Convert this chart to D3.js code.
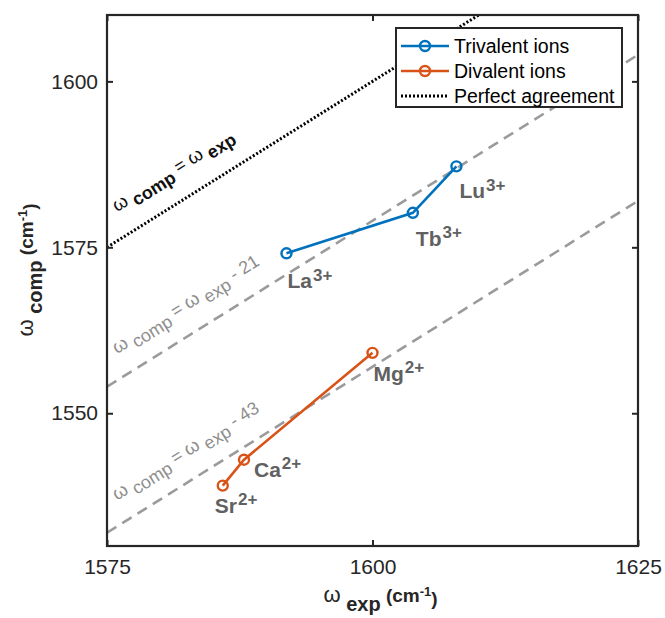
<!DOCTYPE html>
<html>
<head>
<meta charset="utf-8">
<script src="https://cdn.jsdelivr.net/npm/d3@7"></script>
<style>
  html, body { margin: 0; padding: 0; background: #fff; }
  svg { display: block; font-family: "Liberation Sans", Arial, Helvetica, sans-serif; }
</style>
</head>
<body>
<svg id="chart" width="665" height="618"></svg>
<script>
// ---------------- DATA ----------------
const xDomain = [1575, 1625];
const yDomain = [1530, 1610];
const xTicks = [1575, 1600, 1625];
const yTicks = [1550, 1575, 1600];

const trivalentIons = ["La", "Tb", "Lu"];
const trivalentCharge = "3+";
const trivalentExp = [1591.9, 1603.8, 1607.9];
const trivalentComp = [1574.1, 1580.2, 1587.2];

const divalentIons = ["Sr", "Ca", "Mg"];
const divalentCharge = "2+";
const divalentExp = [1585.9, 1587.9, 1600.0];
const divalentComp = [1539.1, 1543.0, 1559.1];

const lineOffsets = [0, -21, -43];           // ω_comp = ω_exp + offset
const legendLabels = ["Trivalent ions", "Divalent ions", "Perfect agreement"];

// ---------------- LAYOUT / STYLE ----------------
const M = { left: 107, right: 638, top: 15, bottom: 546 };
const blue = "#0072BD", orange = "#D95319", grayLine = "#9b9b9b";
const labelGray = "#616161", annGray = "#8e8e8e", axisCol = "#262626";

const svg = d3.select("#chart");
const x = d3.scaleLinear().domain(xDomain).range([M.left, M.right]);
const y = d3.scaleLinear().domain(yDomain).range([M.bottom, M.top]);

svg.append("defs").append("clipPath").attr("id", "clip")
  .append("rect").attr("x", M.left).attr("y", M.top)
  .attr("width", M.right - M.left).attr("height", M.bottom - M.top);

const plot = svg.append("g").attr("clip-path", "url(#clip)");

// reference lines
lineOffsets.forEach((off, i) => {
  const pts = [[xDomain[0], xDomain[0] + off], [xDomain[1], xDomain[1] + off]];
  plot.append("path")
    .attr("d", d3.line().x(d => x(d[0])).y(d => y(d[1]))(pts))
    .attr("fill", "none")
    .attr("stroke", off === 0 ? "#000" : grayLine)
    .attr("stroke-width", off === 0 ? 3 : 2.6)
    .attr("stroke-dasharray", off === 0 ? "2,2" : "11,7");
});

// angle of lines in pixels
const angle = Math.atan2(y(1575) - y(1600), x(1600) - x(1575)) * 180 / Math.PI;

// line annotations
const annAnchorX = 1575.94;
const annLift = [4.35, 3.96, 3.86];
lineOffsets.forEach((off, i) => {
  const px = x(annAnchorX), py = y(annAnchorX + off + annLift[i]);
  const t = svg.append("text")
    .attr("transform", `translate(${px},${py}) rotate(${-angle})`)
    .attr("font-size", 18)
    .attr("fill", off === 0 ? "#111" : annGray);
  const bold = off === 0 ? "bold" : "normal";
  t.append("tspan").attr("font-size", 19).text("ω");
  t.append("tspan").attr("dy", "0.3em").attr("font-weight", bold).text(" comp");
  t.append("tspan").attr("dy", "-0.3em").text(" = ");
  t.append("tspan").attr("font-size", 19).text("ω");
  t.append("tspan").attr("dy", "0.3em").attr("font-weight", bold).text(" exp");
  if (off !== 0) {
    t.append("tspan").attr("dy", "-0.3em").text(" - " + Math.abs(off));
  }
});

// series
function drawSeries(xs, ys, color) {
  const pts = xs.map((v, i) => [v, ys[i]]);
  plot.append("path")
    .attr("d", d3.line().x(d => x(d[0])).y(d => y(d[1]))(pts))
    .attr("fill", "none").attr("stroke", color).attr("stroke-width", 2.6);
  plot.selectAll(null).data(pts).enter().append("circle")
    .attr("cx", d => x(d[0])).attr("cy", d => y(d[1])).attr("r", 5)
    .attr("fill", "none").attr("stroke", color).attr("stroke-width", 2.4);
}
drawSeries(trivalentExp, trivalentComp, blue);
drawSeries(divalentExp, divalentComp, orange);

// ion labels (pixel offsets from point)
const triOffsets = [[1, 35], [3, 33], [3, 32]];
const diOffsets = [[-8, 27], [10, 17], [1, 28]];
function ionLabels(names, xs, ys, charge, offs) {
  names.forEach((n, i) => {
    const t = svg.append("text")
      .attr("x", x(xs[i]) + offs[i][0]).attr("y", y(ys[i]) + offs[i][1])
      .attr("font-size", 21).attr("font-weight", "bold").attr("fill", labelGray);
    t.append("tspan").text(n);
    t.append("tspan").attr("dy", "-0.45em").attr("dx", 1).attr("font-size", 17).text(charge);
  });
}
ionLabels(trivalentIons, trivalentExp, trivalentComp, trivalentCharge, triOffsets);
ionLabels(divalentIons, divalentExp, divalentComp, divalentCharge, diOffsets);

// axes
const fs = 21;
const gx = svg.append("g").attr("transform", `translate(0,${M.bottom})`)
  .call(d3.axisBottom(x).tickValues(xTicks).tickSizeInner(-6).tickSizeOuter(0).tickPadding(13).tickFormat(d3.format("d")));
const gxt = svg.append("g").attr("transform", `translate(0,${M.top})`)
  .call(d3.axisTop(x).tickValues(xTicks).tickSizeInner(-6).tickSizeOuter(0).tickFormat(""));
const gy = svg.append("g").attr("transform", `translate(${M.left},0)`)
  .call(d3.axisLeft(y).tickValues(yTicks).tickSizeInner(-6).tickSizeOuter(0).tickPadding(9).tickFormat(d3.format("d")));
const gyr = svg.append("g").attr("transform", `translate(${M.right},0)`)
  .call(d3.axisRight(y).tickValues(yTicks).tickSizeInner(-6).tickSizeOuter(0).tickFormat(""));
[gx, gxt, gy, gyr].forEach(g => {
  g.select(".domain").remove();
  g.selectAll(".tick line").attr("stroke", axisCol).attr("stroke-width", 2);
  g.selectAll(".tick text").attr("fill", axisCol).attr("font-size", fs)
    .attr("font-family", "Liberation Sans, Arial, sans-serif");
});
svg.append("rect").attr("x", M.left).attr("y", M.top)
  .attr("width", M.right - M.left).attr("height", M.bottom - M.top)
  .attr("fill", "none").attr("stroke", axisCol).attr("stroke-width", 2.2);

// axis labels
const xl = svg.append("text").attr("x", (M.left + M.right) / 2 + 8).attr("y", 602)
  .attr("text-anchor", "middle").attr("font-size", 22).attr("fill", axisCol);
xl.append("tspan").text("ω");
xl.append("tspan").attr("dy", "0.45em").attr("font-weight", "bold").attr("font-size", 20).text(" exp");
xl.append("tspan").attr("dy", "-0.45em").attr("font-weight", "bold").attr("font-size", 19).text(" (cm");
xl.append("tspan").attr("dy", "-0.5em").attr("font-weight", "bold").attr("font-size", 13).text("-1");
xl.append("tspan").attr("dy", "0.5em").attr("font-weight", "bold").attr("font-size", 19).text(")");

const yl = svg.append("text")
  .attr("transform", `translate(33,${270}) rotate(-90)`)
  .attr("text-anchor", "middle").attr("font-size", 22).attr("fill", axisCol);
yl.append("tspan").text("ω");
yl.append("tspan").attr("dy", "0.45em").attr("font-weight", "bold").attr("font-size", 20).text(" comp");
yl.append("tspan").attr("dy", "-0.45em").attr("font-weight", "bold").attr("font-size", 19).text(" (cm");
yl.append("tspan").attr("dy", "-0.5em").attr("font-weight", "bold").attr("font-size", 13).text("-1");
yl.append("tspan").attr("dy", "0.5em").attr("font-weight", "bold").attr("font-size", 19).text(")");

// legend
const L = { x: 396, y: 28, w: 226, h: 79, row: 25, first: 18 };
const lg = svg.append("g");
lg.append("rect").attr("x", L.x).attr("y", L.y).attr("width", L.w).attr("height", L.h)
  .attr("fill", "#fff").attr("stroke", axisCol).attr("stroke-width", 2);
const legendStyles = [
  { color: blue, dash: null, marker: true },
  { color: orange, dash: null, marker: true },
  { color: "#000", dash: "2,2", marker: false }
];
legendLabels.forEach((lab, i) => {
  const cy = L.y + L.first + i * L.row;
  const s = legendStyles[i];
  lg.append("line").attr("x1", L.x + 5).attr("x2", L.x + 53).attr("y1", cy).attr("y2", cy)
    .attr("stroke", s.color).attr("stroke-width", s.marker ? 2.6 : 3)
    .attr("stroke-dasharray", s.dash);
  if (s.marker) {
    lg.append("circle").attr("cx", L.x + 29).attr("cy", cy).attr("r", 5)
      .attr("fill", "none").attr("stroke", s.color).attr("stroke-width", 2.4);
  }
  lg.append("text").attr("x", L.x + 58).attr("y", cy).attr("dy", "0.35em")
    .attr("font-size", 19.5).attr("fill", "#000").text(lab);
});
</script>
</body>
</html>
